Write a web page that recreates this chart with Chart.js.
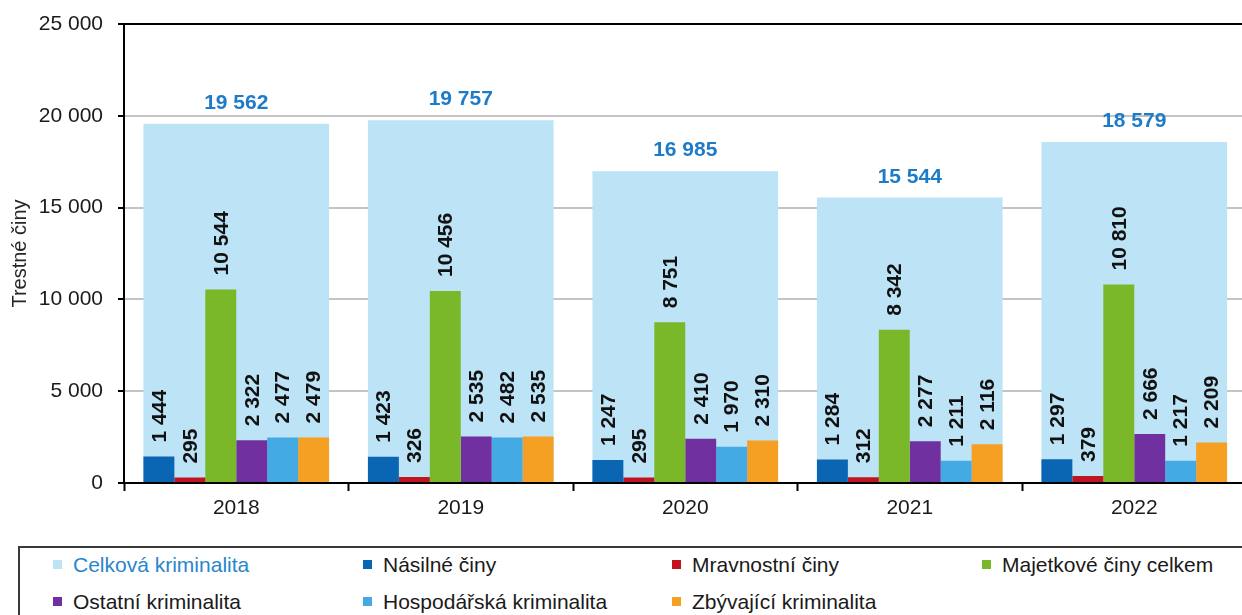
<!DOCTYPE html>
<html>
<head>
<meta charset="utf-8">
<script src="https://cdn.jsdelivr.net/npm/chart.js@4/dist/chart.umd.min.js"></script>
<style>
  html, body { margin: 0; padding: 0; background: #fff; overflow: hidden; width: 1242px; height: 615px; }
  #wrap { position: absolute; left: 0; top: 0; width: 1250px; height: 525px; }
  #wrap canvas { display: block; }
  #legend { position: absolute; left: 18px; top: 546px; width: 1400px; height: 120px; border: 2px solid #3a3a3a; box-sizing: border-box; }
  .li { position: absolute; font-family: "Liberation Sans", Arial, sans-serif; font-size: 21px; color: #1a1a1a; white-space: nowrap; line-height: 24px; }
  .li span.m { display: inline-block; width: 9px; height: 9px; margin-right: 11px; vertical-align: 3px; }
</style>
</head>
<body>
<div id="wrap"><canvas id="c" width="1250" height="525"></canvas></div>
<div id="legend"></div>
<script>
// ---- data ----
const years = ['2018', '2019', '2020', '2021', '2022'];
const celkova = [19562, 19757, 16985, 15544, 18579];
const nasilne = [1444, 1423, 1247, 1284, 1297];
const mravnostni = [295, 326, 295, 312, 379];
const majetkove = [10544, 10456, 8751, 8342, 10810];
const ostatni = [2322, 2535, 2410, 2277, 2666];
const hospodarska = [2477, 2482, 1970, 1211, 1217];
const zbyvajici = [2479, 2535, 2310, 2116, 2209];
const yTicks = [0, 5000, 10000, 15000, 20000, 25000];
const seriesNames = ['Celková kriminalita', 'Násilné činy', 'Mravnostní činy', 'Majetkové činy celkem', 'Ostatní kriminalita', 'Hospodářská kriminalita', 'Zbývající kriminalita'];
const seriesColors = ['#BDE3F6', '#0A66B2', '#C0141E', '#7AB82A', '#7030A0', '#43AAE4', '#F5A023'];

function fmt(v) { return String(v).replace(/\B(?=(\d{3})+(?!\d))/g, ' '); }

const FONT = '"Liberation Sans", Arial, sans-serif';
const CAT = 0.827;

const seriesData = [celkova, nasilne, mravnostni, majetkove, ostatni, hospodarska, zbyvajici];
const datasets = seriesData.map((d, i) => ({
  label: seriesNames[i],
  data: d,
  backgroundColor: seriesColors[i],
  borderWidth: 0,
  categoryPercentage: CAT,
  barPercentage: 1,
  grouped: i !== 0,
  order: i === 0 ? 10 : 0
}));

const labelPlugin = {
  id: 'valLabels',
  afterDatasetsDraw(chart) {
    const ctx = chart.ctx;
    chart.data.datasets.forEach((ds, di) => {
      const meta = chart.getDatasetMeta(di);
      meta.data.forEach((bar, i) => {
        const txt = fmt(ds.data[i]);
        ctx.save();
        ctx.font = 'bold 21px ' + FONT;
        if (di === 0) {
          ctx.fillStyle = '#1E7BC8';
          ctx.textAlign = 'center';
          ctx.textBaseline = 'alphabetic';
          ctx.fillText(txt, bar.x, bar.y - 15);
        } else {
          ctx.fillStyle = '#111';
          ctx.translate(bar.x, bar.y - 14);
          ctx.rotate(-Math.PI / 2);
          ctx.textAlign = 'left';
          ctx.textBaseline = 'middle';
          ctx.fillText(txt, 0, 1);
        }
        ctx.restore();
      });
    });
  }
};

new Chart(document.getElementById('c'), {
  type: 'bar',
  data: { labels: years, datasets },
  options: {
    responsive: false,
    animation: false,
    devicePixelRatio: 1,
    layout: { autoPadding: false, padding: { left: 0, top: 24, right: 3.5, bottom: 0 } },
    plugins: { legend: { display: false }, tooltip: { enabled: false } },
    scales: {
      x: {
        grid: { drawOnChartArea: false, offset: true, tickLength: 8, tickColor: '#000', tickWidth: 2 },
        border: { color: '#000', width: 2 },
        ticks: { font: { family: FONT, size: 21 }, color: '#1a1a1a', padding: 5 },
        afterFit(s) { s.height = 42; s.paddingLeft = 0; s.paddingRight = 0; }
      },
      y: {
        min: 0, max: 25000,
        afterBuildTicks(s) { s.ticks = yTicks.map(v => ({ value: v })); },
        grid: {
          color: c => c.tick && c.tick.value === 25000 ? '#000' : (c.tick && c.tick.value === 0 ? 'rgba(0,0,0,0)' : '#c4c4c4'),
          lineWidth: 2,
          tickLength: 6, tickColor: '#000', tickWidth: 2
        },
        border: { color: '#000', width: 2 },
        ticks: { font: { family: FONT, size: 21 }, color: '#1a1a1a', padding: 15, callback: v => fmt(v) },
        title: { display: true, text: 'Trestné činy', font: { family: FONT, size: 20 }, color: '#262626', padding: { top: 8, bottom: 0 } },
        afterFit(s) { s.width = 124; s.paddingTop = 0; s.paddingBottom = 0; }
      }
    }
  },
  plugins: [labelPlugin]
});

// ---- HTML legend ----
const legend = document.getElementById('legend');
const colX = [53, 363, 672, 982];
const rowY = [565, 602];
seriesNames.forEach((name, i) => {
  const col = i % 4, row = Math.floor(i / 4);
  const el = document.createElement('div');
  el.className = 'li';
  el.style.left = (colX[col] - 20) + 'px';
  el.style.top = (rowY[row] - 546 - 2 - 12) + 'px';
  if (i === 0) el.style.color = '#2A85CC';
  el.innerHTML = '<span class="m" style="background:' + seriesColors[i] + '"></span>' + name;
  legend.appendChild(el);
});
</script>
</body>
</html>
